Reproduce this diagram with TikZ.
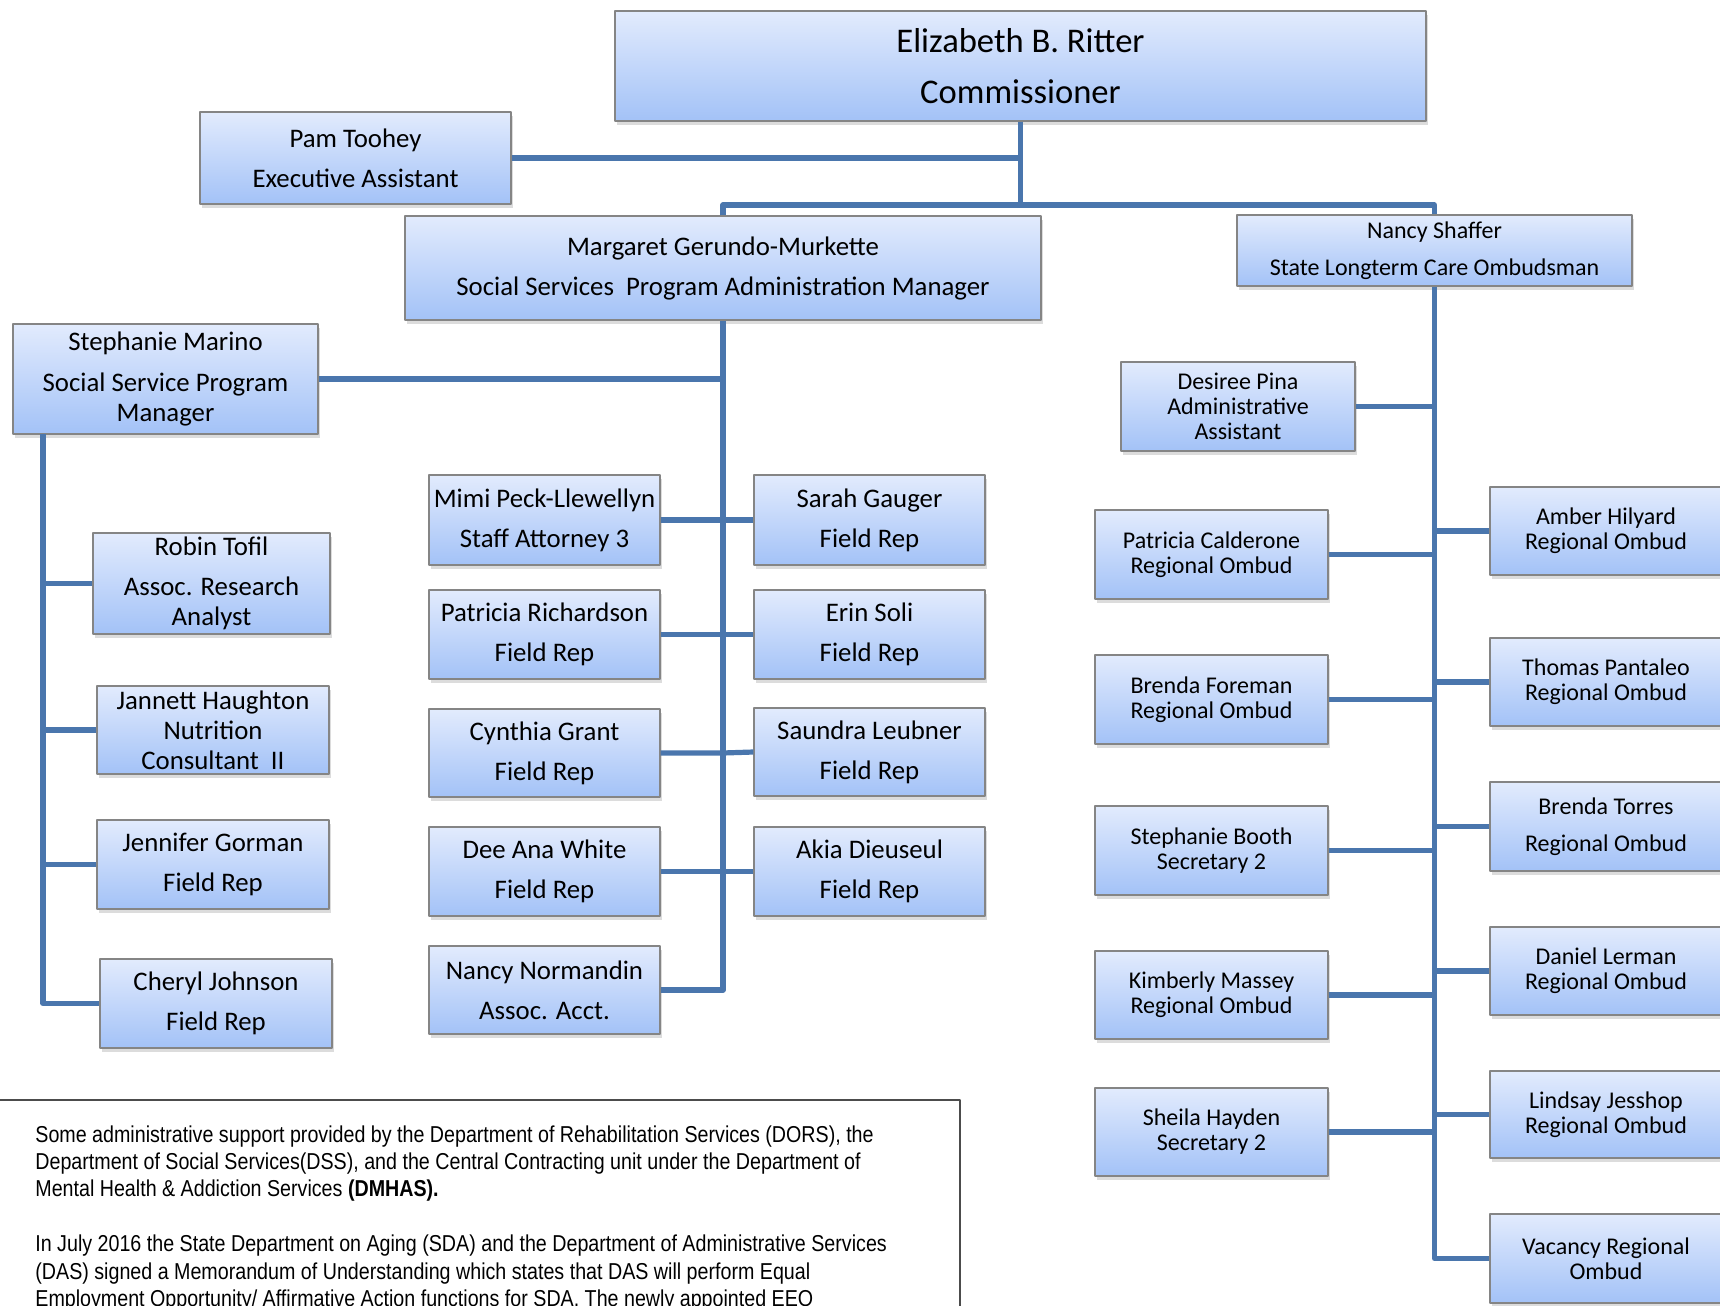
\documentclass[tikz,border=0pt]{standalone}
\usepackage{fontspec}
\setmainfont{Carlito}
\newfontfamily\notefont{Liberation Sans}[FakeStretch=0.855]
\usepackage{tikz}
\usetikzlibrary{shadows}
\definecolor{boxtop}{HTML}{E2EBFD}
\definecolor{boxbot}{HTML}{A3C2F7}
\definecolor{boxedge}{HTML}{858585}
\definecolor{linkblue}{HTML}{4A76AD}
\newcommand\commfont{\fontsize{17.3}{19}\selectfont}
\newcommand\midfont{\fontsize{13.4}{15}\selectfont}
\newcommand\shafferfont{\fontsize{12}{13.5}\selectfont}
\newcommand\ombfont{\fontsize{12}{12.5}\selectfont}

\begin{document}
\begin{tikzpicture}[line join=round,x=0.5pt,y=-0.5pt,
  orgbox/.style={draw=boxedge,line width=0.6pt,top color=boxtop,bottom color=boxbot,
    drop shadow={shadow xshift=1.2pt,shadow yshift=-1.8pt,opacity=0.28},
    inner sep=0pt,align=center,font=\midfont},
  boxsize/.style 2 args={minimum width=#1*0.5pt,minimum height=#2*0.5pt},
  link/.style={draw=linkblue,line width=2.6pt}]
\useasboundingbox (0,0) rectangle (1720,1306);
\clip (0,0) rectangle (1720,1306);
% top level
\node[orgbox,boxsize={811}{110},font=\commfont] (comm) at (1020.5,66) {Elizabeth B. Ritter\\[6.5pt]Commissioner};
\node[orgbox,boxsize={311}{92}] (toohey) at (355.5,158) {Pam Toohey\\[5pt]Executive Assistant};
\node[orgbox,boxsize={636}{104}] (gerundo) at (723,268) {Margaret Gerundo-Murkette\\[5pt]Social Services\ \ Program Administration Manager};
\node[orgbox,boxsize={395}{71},font=\shafferfont] (shaffer) at (1434.5,250.5) {Nancy Shaffer\\[5pt]State Longterm Care Ombudsman};
% social services side
\node[orgbox,boxsize={305}{110}] (marino) at (165.5,379) {Stephanie Marino\\[5.5pt]Social Service Program\\Manager};
\node[orgbox,boxsize={237}{101}] (tofil) at (211.5,583.5) {Robin Tofil\\[5pt]Assoc. Research\\Analyst};
\node[orgbox,boxsize={232}{88}] (haughton) at (213,730) {Jannett Haughton\\Nutrition\\Consultant\ \ II};
\node[orgbox,boxsize={232}{89}] (gorman) at (213,864.5) {Jennifer Gorman\\[5pt]Field Rep};
\node[orgbox,boxsize={232}{89}] (johnson) at (216,1003.5) {Cheryl Johnson\\[5pt]Field Rep};
\node[orgbox,boxsize={231}{90}] (peck) at (544.5,520) {Mimi Peck-Llewellyn\\[5pt]Staff Attorney 3};
\node[orgbox,boxsize={231}{89}] (richardson) at (544.5,634.5) {Patricia Richardson\\[5pt]Field Rep};
\node[orgbox,boxsize={231}{88}] (grant) at (544.5,753) {Cynthia Grant\\[5pt]Field Rep};
\node[orgbox,boxsize={231}{89}] (white) at (544.5,871.5) {Dee Ana White\\[5pt]Field Rep};
\node[orgbox,boxsize={231}{88}] (normandin) at (544.5,990) {Nancy Normandin\\[5pt]Assoc. Acct.};
\node[orgbox,boxsize={231}{90}] (gauger) at (869.5,520) {Sarah Gauger\\[5pt]Field Rep};
\node[orgbox,boxsize={231}{89}] (soli) at (869.5,634.5) {Erin Soli\\[5pt]Field Rep};
\node[orgbox,boxsize={231}{88}] (leubner) at (869.5,752) {Saundra Leubner\\[5pt]Field Rep};
\node[orgbox,boxsize={231}{89}] (dieuseul) at (869.5,871.5) {Akia Dieuseul\\[5pt]Field Rep};
% ombudsman side
\node[orgbox,boxsize={234}{89},font=\ombfont] (pina) at (1238,406.5) {Desiree Pina\\Administrative\\Assistant};
\node[orgbox,boxsize={233}{89},font=\ombfont] (calderone) at (1211.5,554.5) {Patricia Calderone\\Regional Ombud};
\node[orgbox,boxsize={233}{89},font=\ombfont] (foreman) at (1211.5,699.5) {Brenda Foreman\\Regional Ombud};
\node[orgbox,boxsize={233}{89},font=\ombfont] (booth) at (1211.5,850.5) {Stephanie Booth\\Secretary 2};
\node[orgbox,boxsize={233}{88},font=\ombfont] (massey) at (1211.5,995) {Kimberly Massey\\Regional Ombud};
\node[orgbox,boxsize={233}{88},font=\ombfont] (hayden) at (1211.5,1132) {Sheila Hayden\\Secretary 2};
\node[orgbox,boxsize={232}{88},font=\ombfont] (hilyard) at (1606,531) {Amber Hilyard\\Regional Ombud};
\node[orgbox,boxsize={232}{88},font=\ombfont] (pantaleo) at (1606,682) {Thomas Pantaleo\\Regional Ombud};
\node[orgbox,boxsize={232}{89},font=\ombfont] (torres) at (1606,826.5) {Brenda Torres\\[6pt]Regional Ombud};
\node[orgbox,boxsize={232}{88},font=\ombfont] (lerman) at (1606,971) {Daniel Lerman\\Regional Ombud};
\node[orgbox,boxsize={232}{87},font=\ombfont] (jesshop) at (1606,1114.5) {Lindsay Jesshop\\Regional Ombud};
\node[orgbox,boxsize={232}{89},font=\ombfont] (vacancy) at (1606,1258.5) {Vacancy Regional\\Ombud};
% connectors
\coordinate (bus) at (1020.5,205);
\draw[link] (comm.south) -- (bus);
\draw[link] (toohey.east) -- (toohey.east -| comm.south);
\draw[link] (gerundo.north) |- (bus) -| (shaffer.north);
\draw[link] (gerundo.south) |- (normandin.east);
\draw[link] (marino.east) -- (marino.east -| gerundo.south);
\draw[link] (peck.east) -- (gauger.west);
\draw[link] (richardson.east) -- (soli.west);
\draw[link] (grant.east) -- (grant.east -| gerundo.south) -- (leubner.west);
\draw[link] (white.east) -- (dieuseul.west);
\coordinate (mspine) at (43,434);
\draw[link] (mspine) |- (johnson.west);
\draw[link] (tofil.west) -- (tofil.west -| mspine);
\draw[link] (haughton.west) -- (haughton.west -| mspine);
\draw[link] (gorman.west) -- (gorman.west -| mspine);
\draw[link] (shaffer.south) |- (vacancy.west);
\draw[link] (pina.east) -- (pina.east -| shaffer.south);
\draw[link] (calderone.east) -- (calderone.east -| shaffer.south);
\draw[link] (foreman.east) -- (foreman.east -| shaffer.south);
\draw[link] (booth.east) -- (booth.east -| shaffer.south);
\draw[link] (massey.east) -- (massey.east -| shaffer.south);
\draw[link] (hayden.east) -- (hayden.east -| shaffer.south);
\draw[link] (hilyard.west) -- (hilyard.west -| shaffer.south);
\draw[link] (pantaleo.west) -- (pantaleo.west -| shaffer.south);
\draw[link] (torres.west) -- (torres.west -| shaffer.south);
\draw[link] (lerman.west) -- (lerman.west -| shaffer.south);
\draw[link] (jesshop.west) -- (jesshop.west -| shaffer.south);
% note
\draw[black!70,line width=0.8pt] (-2,1100) rectangle (960,1340);
\node[anchor=north west,inner sep=0pt,align=left,font=\notefont\fontsize{11.5}{13.7}\selectfont] (note) at (35,1125)
  {Some administrative support provided by the Department of Rehabilitation Services (DORS), the\\
   Department of Social Services(DSS), and the Central Contracting unit under the Department of\\
   Mental Health \& Addiction Services \textbf{(DMHAS).}\\[13.7pt]
   In July 2016 the State Department on Aging (SDA) and the Department of Administrative Services\\
   (DAS) signed a Memorandum of Understanding which states that DAS will perform Equal\\
   Employment Opportunity/ Affirmative Action functions for SDA. The newly appointed EEO};
\end{tikzpicture}
\end{document}
